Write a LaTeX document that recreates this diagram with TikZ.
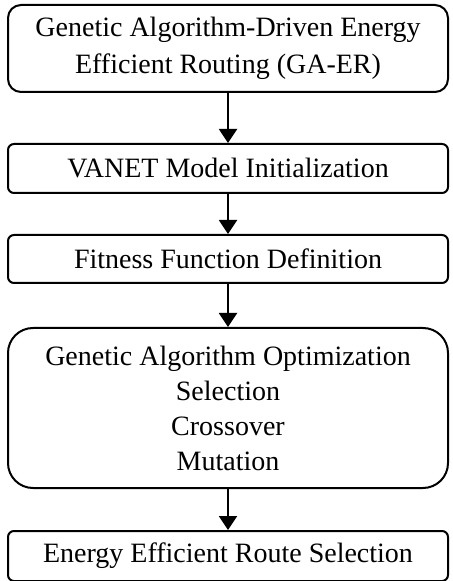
\documentclass[tikz,border=0pt]{standalone}
\usepackage{fontspec}
\setmainfont{Liberation Serif}
\usetikzlibrary{positioning,arrows.meta}

\tikzset{
  stage/.style={draw, line width=1pt, rounded corners=3pt, minimum width=220pt,
    align=center, inner sep=2pt, font=\fontsize{14}{17.5}\selectfont},
  flow/.style={-{Triangle[length=7pt,width=9pt]}, line width=1pt}
}

\begin{document}
\begin{tikzpicture}
    \useasboundingbox (0,0) rectangle (226.5pt,-290.5pt);

    % Stages of the routing scheme
    \node[stage, rounded corners=6.5pt, minimum height=43.5pt] (gaer) at (114pt,-24.25pt)
        {Genetic Algorithm-Driven Energy\\[1pt]Efficient Routing (GA-ER)};
    \node[stage, minimum height=24.5pt, below=25pt of gaer] (init) {VANET Model Initialization};
    \node[stage, minimum height=24pt, below=20pt of init] (fit) {Fitness Function Definition};
    \node[stage, rounded corners=12.5pt, minimum height=80pt, below=21.5pt of fit] (gao)
        {Genetic Algorithm Optimization\\Selection\\Crossover\\Mutation};
    \node[stage, minimum height=25pt, below=20.5pt of gao] (route) {Energy Efficient Route Selection};

    % Connectors between stages
    \draw[flow] (gaer) -- (init);
    \draw[flow] (init) -- (fit);
    \draw[flow] (fit) -- (gao);
    \draw[flow] (gao) -- (route);
\end{tikzpicture}
\end{document}
